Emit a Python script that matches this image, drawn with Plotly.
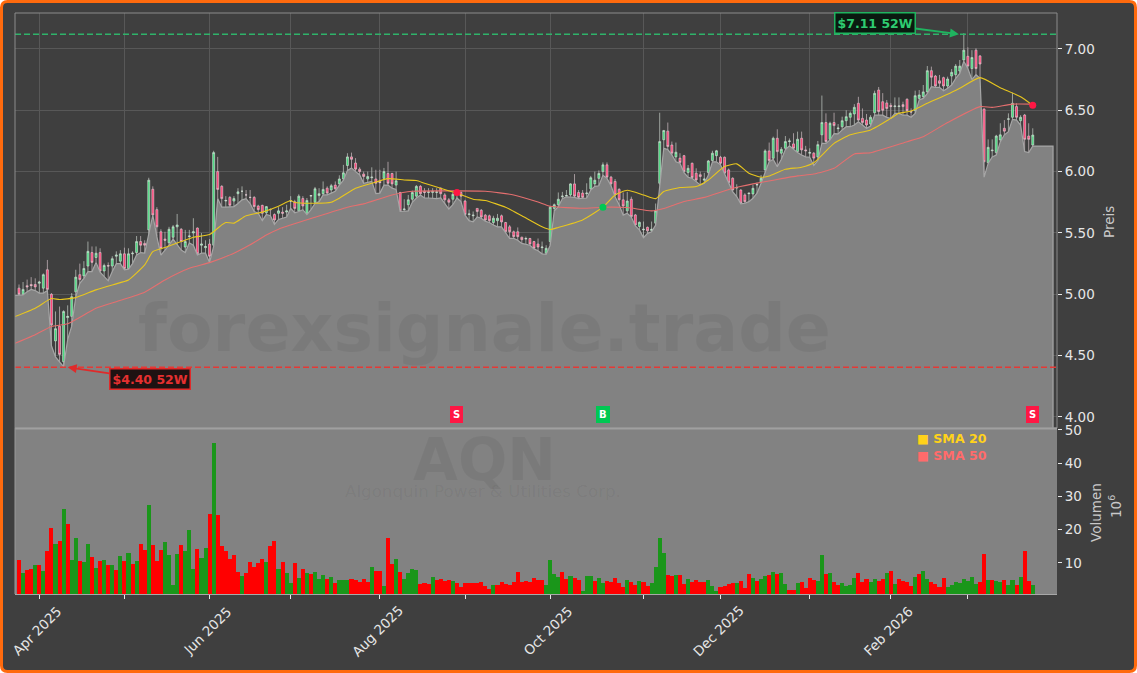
import plotly.graph_objects as go

W, H = 1137, 673
opens = [5.05,5.00,5.07,5.08,5.08,5.09,5.05,5.20,5.00,4.62,
 4.74,4.45,4.81,4.82,5.02,5.16,5.15,5.23,5.34,5.30,
 5.34,5.19,5.235,5.23,5.31,5.27,5.33,5.21,5.33,5.34,
 5.43,5.415,5.525,5.856,5.69,5.51,5.45,5.42,5.465,5.55,
 5.53,5.385,5.47,5.50,5.54,5.40,5.38,5.41,5.40,6.00,
 5.88,5.76,5.79,5.76,5.82,5.84,5.81,5.79,5.79,5.72,
 5.725,5.665,5.69,5.65,5.66,5.67,5.67,5.76,5.755,5.68,
 5.78,5.66,5.80,5.75,5.805,5.82,5.865,5.85,5.89,5.90,
 5.94,6.05,6.12,6.07,6.02,5.98,5.94,5.95,5.94,5.92,
 5.945,5.985,5.985,5.89,5.83,5.69,5.73,5.775,5.80,5.88,
 5.84,5.83,5.83,5.83,5.865,5.81,5.77,5.775,5.82,5.83,
 5.76,5.65,5.64,5.70,5.685,5.645,5.64,5.585,5.60,5.64,
 5.585,5.55,5.51,5.51,5.465,5.45,5.455,5.43,5.41,5.38,
 5.335,5.43,5.70,5.73,5.795,5.80,5.81,5.90,5.83,5.825,
 5.82,5.86,5.90,5.945,6.00,6.055,5.955,5.92,5.855,5.77,
 5.68,5.775,5.647,5.552,5.525,5.546,5.52,5.58,5.905,6.26,
 6.33,6.217,6.12,6.11,6.13,5.992,6.068,5.987,5.975,5.93,
 5.992,6.09,6.13,6.117,6.117,6.014,5.946,5.866,5.85,5.81,
 5.82,5.818,5.89,5.91,6.014,6.169,6.109,6.272,6.15,6.19,
 6.245,6.226,6.163,6.272,6.177,6.15,6.15,6.12,6.30,6.40,
 6.263,6.40,6.35,6.366,6.415,6.443,6.47,6.557,6.434,6.42,
 6.388,6.48,6.665,6.57,6.56,6.54,6.53,6.53,6.546,6.59,
 6.49,6.497,6.597,6.611,6.65,6.823,6.779,6.74,6.766,6.698,
 6.779,6.79,6.82,6.91,6.94,6.84,6.99,6.943,6.51,6.073,
 6.17,6.155,6.258,6.353,6.426,6.443,6.53,6.415,6.461,6.29,6.217]
highs = [5.08,5.10,5.12,5.14,5.13,5.11,5.17,5.28,5.01,4.86,
 4.90,4.87,4.91,5.01,5.20,5.25,5.27,5.43,5.39,5.39,
 5.375,5.25,5.26,5.31,5.35,5.36,5.38,5.375,5.35,5.475,
 5.475,5.44,5.95,5.88,5.71,5.53,5.51,5.55,5.565,5.655,
 5.54,5.525,5.525,5.62,5.545,5.50,5.44,5.45,6.17,6.12,
 5.89,5.80,5.80,5.80,5.865,5.88,5.85,5.85,5.80,5.73,
 5.73,5.72,5.70,5.66,5.71,5.71,5.73,5.80,5.77,5.815,
 5.80,5.785,5.81,5.875,5.865,5.92,5.88,5.90,5.92,5.97,
 6.055,6.15,6.155,6.11,6.035,6.00,6.00,6.035,6.015,6.015,
 6.03,6.08,5.99,6.00,5.835,5.775,5.81,5.845,5.89,5.89,
 5.865,5.865,5.865,5.865,5.87,5.825,5.785,5.83,5.85,5.84,
 5.77,5.69,5.675,5.70,5.695,5.655,5.65,5.64,5.655,5.65,
 5.59,5.565,5.52,5.545,5.47,5.47,5.46,5.435,5.455,5.43,
 5.40,5.72,5.74,5.83,5.835,5.85,5.905,5.98,5.85,5.85,
 5.905,5.965,6.00,6.01,6.075,6.075,5.965,5.94,5.865,5.83,
 5.835,5.796,5.655,5.593,5.593,5.552,5.593,5.74,6.48,6.34,
 6.40,6.245,6.237,6.15,6.136,6.054,6.074,6.027,6.00,5.99,
 6.095,6.17,6.177,6.128,6.123,6.025,5.954,5.897,5.856,5.824,
 5.824,5.892,5.91,5.973,6.182,6.237,6.285,6.345,6.20,6.29,
 6.27,6.313,6.326,6.326,6.21,6.19,6.16,6.25,6.62,6.475,
 6.407,6.48,6.388,6.448,6.50,6.49,6.55,6.61,6.515,6.47,
 6.46,6.66,6.69,6.64,6.584,6.56,6.605,6.605,6.57,6.597,
 6.516,6.66,6.665,6.706,6.861,6.856,6.788,6.788,6.774,6.774,
 6.836,6.877,6.91,7.128,7.013,6.99,7.005,6.95,6.516,6.263,
 6.263,6.30,6.394,6.42,6.475,6.643,6.557,6.46,6.47,6.394,6.353]
lows = [4.99,4.995,5.02,5.04,5.03,5.01,5.01,5.03,4.58,4.49,
 4.45,4.41,4.63,4.74,4.98,5.09,5.13,5.185,5.185,5.26,
 5.18,5.145,5.11,5.185,5.25,5.25,5.20,5.205,5.25,5.32,
 5.34,5.335,5.48,5.645,5.47,5.32,5.36,5.40,5.45,5.40,
 5.36,5.34,5.42,5.40,5.32,5.335,5.335,5.26,5.39,5.78,
 5.71,5.71,5.71,5.715,5.74,5.77,5.78,5.74,5.675,5.66,
 5.60,5.65,5.64,5.57,5.61,5.62,5.63,5.70,5.665,5.675,
 5.69,5.65,5.69,5.74,5.755,5.81,5.81,5.825,5.84,5.89,
 5.93,6.01,6.03,6.00,5.975,5.905,5.91,5.92,5.82,5.825,
 5.89,5.89,5.865,5.855,5.675,5.675,5.68,5.75,5.785,5.81,
 5.785,5.785,5.78,5.78,5.785,5.735,5.695,5.73,5.785,5.755,
 5.645,5.60,5.59,5.63,5.62,5.595,5.585,5.565,5.55,5.55,
 5.50,5.455,5.455,5.44,5.415,5.41,5.40,5.37,5.355,5.33,
 5.325,5.40,5.68,5.715,5.78,5.795,5.795,5.79,5.78,5.785,
 5.785,5.85,5.88,5.885,5.97,5.945,5.885,5.795,5.73,5.645,
 5.66,5.63,5.557,5.525,5.462,5.497,5.51,5.565,5.89,6.19,
 6.18,6.136,6.08,6.068,5.992,5.954,5.946,5.919,5.892,5.905,
 5.973,6.08,6.08,6.055,5.98,5.90,5.837,5.797,5.737,5.742,
 5.755,5.783,5.824,5.905,5.992,6.082,6.10,6.04,6.10,6.18,
 6.21,6.18,6.155,6.136,6.12,6.117,6.05,6.09,6.23,6.23,
 6.258,6.31,6.307,6.34,6.366,6.366,6.38,6.407,6.38,6.353,
 6.372,6.46,6.46,6.46,6.442,6.434,6.475,6.475,6.46,6.46,
 6.443,6.475,6.584,6.597,6.638,6.693,6.687,6.687,6.66,6.679,
 6.706,6.76,6.80,6.90,6.84,6.75,6.79,6.76,5.955,6.067,
 6.12,6.135,6.244,6.30,6.326,6.426,6.42,6.38,6.163,6.155,6.208]
closes = [5.00,5.04,5.06,5.07,5.06,5.10,5.16,5.04,4.75,4.72,
 4.51,4.86,4.82,4.98,5.14,5.12,5.21,5.35,5.26,5.335,
 5.19,5.235,5.23,5.29,5.32,5.33,5.21,5.33,5.335,5.43,
 5.40,5.40,5.93,5.647,5.55,5.375,5.44,5.53,5.55,5.565,
 5.43,5.43,5.475,5.51,5.33,5.41,5.39,5.31,6.155,5.855,
 5.78,5.765,5.726,5.78,5.835,5.84,5.81,5.79,5.715,5.69,
 5.66,5.715,5.69,5.605,5.68,5.66,5.68,5.76,5.70,5.80,
 5.72,5.765,5.805,5.86,5.82,5.855,5.825,5.885,5.86,5.94,
 5.99,6.12,6.10,6.02,6.00,5.96,5.96,5.955,5.905,5.91,
 6.00,5.905,5.90,5.925,5.68,5.695,5.77,5.83,5.88,5.82,
 5.83,5.835,5.84,5.835,5.82,5.77,5.75,5.815,5.83,5.80,
 5.65,5.655,5.645,5.675,5.63,5.605,5.60,5.62,5.62,5.59,
 5.51,5.51,5.47,5.47,5.445,5.455,5.41,5.375,5.385,5.385,
 5.375,5.71,5.73,5.775,5.80,5.805,5.90,5.80,5.79,5.79,
 5.825,5.95,5.93,5.985,6.055,5.955,5.90,5.81,5.77,5.72,
 5.76,5.633,5.565,5.587,5.53,5.517,5.53,5.68,6.245,6.335,
 6.205,6.15,6.158,6.074,6.00,6.027,5.951,5.932,5.96,5.94,
 6.087,6.15,6.17,6.068,5.987,5.91,5.85,5.87,5.742,5.755,
 5.825,5.864,5.895,5.946,6.169,6.09,6.272,6.163,6.182,6.245,
 6.25,6.19,6.264,6.177,6.17,6.155,6.11,6.22,6.40,6.245,
 6.394,6.375,6.355,6.415,6.448,6.475,6.524,6.42,6.40,6.38,
 6.443,6.638,6.49,6.50,6.515,6.53,6.535,6.535,6.53,6.497,
 6.485,6.619,6.625,6.65,6.823,6.769,6.698,6.72,6.698,6.755,
 6.809,6.86,6.86,6.99,6.86,6.93,6.84,6.877,6.08,6.198,
 6.175,6.29,6.30,6.33,6.43,6.557,6.443,6.443,6.263,6.263,6.298]
volumes = [10.9,7.1,7.9,8.2,9.4,9.4,7.6,13.6,20.5,15.7,
 16.6,26.2,21.7,10.9,17.5,10.6,10.3,15.7,11.8,8.5,
 10.6,10.9,9.4,9.4,7.9,12.1,10.6,13.0,9.7,10.6,
 15.7,13.9,27.4,15.5,10.6,13.9,16.3,12.4,3.4,12.7,
 15.5,13.6,19.9,8.2,14.2,11.5,14.5,24.7,46.1,24.4,
 15.1,13.6,11.2,12.4,7.3,6.1,7.0,10.3,8.8,10.0,
 11.2,10.3,15.1,16.6,8.2,10.3,7.0,3.9,10.0,5.5,
 8.2,7.0,6.7,7.3,5.2,6.4,5.2,5.8,3.9,4.9,
 4.9,4.9,5.2,4.9,4.3,5.2,4.3,8.8,7.6,7.6,
 3.0,17.5,9.7,11.2,7.3,5.2,7.0,8.2,7.9,3.7,
 4.0,3.7,5.8,4.9,5.2,4.6,4.9,4.6,4.0,2.8,
 4.0,4.0,4.0,4.0,4.3,3.0,2.2,3.4,3.4,4.3,
 3.7,3.4,4.3,7.3,4.3,4.6,4.3,5.5,4.9,4.9,
 3.4,10.9,6.7,5.8,7.3,5.2,6.1,5.5,4.9,1.6,
 6.1,6.1,4.6,5.5,4.0,4.6,4.3,5.5,4.0,2.8,
 4.9,4.3,3.4,4.6,4.3,3.0,4.0,8.8,17.5,13.0,
 6.4,6.1,6.4,6.4,3.7,5.2,4.3,4.9,4.3,4.3,
 4.9,3.0,1.6,2.8,3.0,3.7,4.0,4.0,4.6,2.5,
 6.7,5.5,4.6,5.2,6.1,6.4,7.3,6.7,7.0,3.7,
 1.9,1.9,4.0,4.3,2.5,5.5,4.9,4.6,12.4,6.7,
 7.0,4.3,3.4,4.0,3.0,3.4,5.5,7.0,4.3,5.2,
 4.3,5.2,4.6,5.2,7.0,7.6,3.7,5.2,4.6,4.3,
 3.0,5.8,6.7,7.6,5.2,4.3,3.7,2.8,5.5,2.8,
 3.4,4.3,4.0,5.2,4.6,5.8,3.7,4.3,12.7,4.9,
 4.9,4.6,4.3,4.9,3.4,4.9,3.4,5.8,13.6,4.6,3.4]
vol_up = "RGRRGRGRRG" "RGRGGRGGRG" "RGRGRGRGRG" "RRGRRRGGGG" "RGGGRGGRGR" \
         "RRRRRGRRRR" "RGRRGRGGRG" "RGRGGGRGRG" "GGRRRRRGRR" "GRRGRGGGGR" \
         "RRGRRRRGRR" "RRRRRRRGRR" "RRRRRRRRRR" "GGGGRRGRRG" "GGRGGRRRRR" \
         "GRRGRRGGGG" "RRGRRGRRRR" "GGGRRRRGRR" "RGRGGRGRGG" "RRGRRRRGGR" \
         "GRRGGGGRRR" "GGRRGRGRRR" "RGRGGRRRRG" "GGGGGGGRRG" "RGGRGGRGRRG"
sma20_x = [-1,4,8,10,14,19,25,27,31,33,36,40,43,47,50,51,53,56,60,64,67,68,73,77,79,83,87,91,95,98,100,104,108,112,115,120,124,129,131,133,139,144,147,150,154,157,159,163,167,170,174,177,180,183,185,189,193,196,201,205,210,215,217,220,224,229,232,237,242,247,250]
sma20_y = [4.818,4.886,4.965,4.957,4.973,5.036,5.095,5.117,5.24,5.348,5.381,5.43,5.465,5.487,5.566,5.585,5.58,5.64,5.67,5.718,5.764,5.748,5.742,5.75,5.783,5.864,5.905,5.943,5.932,5.927,5.905,5.864,5.823,5.775,5.764,5.71,5.64,5.55,5.528,5.545,5.606,5.71,5.81,5.848,5.81,5.78,5.837,5.87,5.878,5.932,6.041,6.063,5.987,5.954,5.965,6.019,6.036,6.073,6.23,6.30,6.34,6.434,6.475,6.494,6.557,6.63,6.679,6.766,6.684,6.61,6.54]
sma50_x = [-1,4,8,12,19,24,31,36,42,47,53,57,61,64,73,81,85,92,97,108,115,122,128,131,139,144,150,156,159,164,169,176,181,186,192,196,201,206,210,219,223,229,237,240,245,250]
sma50_y = [4.60,4.67,4.737,4.76,4.886,4.94,5.017,5.117,5.212,5.258,5.335,5.403,5.484,5.531,5.628,5.71,5.737,5.81,5.84,5.843,5.84,5.81,5.752,5.717,5.701,5.71,5.707,5.68,5.70,5.756,5.79,5.864,5.90,5.93,5.965,5.98,6.027,6.144,6.154,6.244,6.285,6.40,6.53,6.524,6.55,6.55]
tick_vals = [5,26,47,67,89,110,131,154,173,195,215,234]
tick_text = ["Apr 2025","","Jun 2025","","Aug 2025","","Oct 2025","","Dec 2025","","Feb 2026",""]
high52 = 7.12
low52 = 4.405
signal_x = [108,144,250]
signal_y = [5.83,5.71,6.54]
signal_text = ["S","B","S"]

assert len(opens)==len(highs)==len(lows)==len(closes)==len(volumes)==len(vol_up)==251, \
    (len(opens),len(highs),len(lows),len(closes),len(volumes),len(vol_up))

idx = list(range(len(closes)))
GREEN, RED = "#00c853", "#ff1744"
DARK, GREY = "#3f3f3f", "#828282"
XR = [-0.986, 255.98]

def px(x): return x / W
def py(y): return 1 - y / H

fig = go.Figure()
fig.add_trace(go.Scatter(x=[-1] + idx + [idx[-1] + k for k in range(1, 6)] + [255],
                         y=[lows[0]] + lows + [lows[-1]] * 5 + [3.0],
                         mode="lines", line=dict(color="#a6a6a6", width=1.2),
                         fill="tozeroy", fillcolor=GREY, showlegend=False, hoverinfo="skip"))
for v, c in ((high52, "#2fb36a"), (low52, "#e53935")):
    fig.add_trace(go.Scatter(x=XR, y=[v, v], mode="lines", showlegend=False,
                             line=dict(color=c, width=1.5, dash="6px,3px")))
fig.add_trace(go.Candlestick(x=idx, open=opens, high=highs, low=lows, close=closes,
                             whiskerwidth=0, showlegend=False,
                             increasing=dict(line=dict(color="#dbe6de", width=0.6), fillcolor="#44d97c"),
                             decreasing=dict(line=dict(color="#e8d3da", width=0.6), fillcolor="#ff3f75")))
fig.add_trace(go.Scatter(x=sma50_x, y=sma50_y, mode="lines", name="SMA 50", showlegend=False,
                         line=dict(color="#e56f6f", width=1.1, shape="spline", smoothing=0.5)))
fig.add_trace(go.Scatter(x=sma20_x, y=sma20_y, mode="lines", name="SMA 20", showlegend=False,
                         line=dict(color="#e8c61e", width=1.1, shape="spline", smoothing=0.5)))
fig.add_trace(go.Scatter(x=signal_x, y=signal_y, mode="markers", showlegend=False,
                         marker=dict(size=7, color=[RED if t == "S" else GREEN for t in signal_text])))
fig.add_trace(go.Bar(x=idx, y=volumes, xaxis="x2", yaxis="y2", width=1.0, showlegend=False,
                     marker=dict(color=["#1a961a" if u == "G" else "#ff0000" for u in vol_up], line_width=0)))

tickf = dict(family="DejaVu Sans", size=13.5, color="#e6e6e6")
fig.update_layout(
    width=W, height=H, margin=dict(l=0, r=0, t=0, b=0, autoexpand=False),
    paper_bgcolor="#ffffff", plot_bgcolor="rgba(0,0,0,0)",
    bargap=0, barmode="overlay",
    font=dict(family="DejaVu Sans", color="#e6e6e6"),
    xaxis=dict(domain=[px(15), px(1057)], range=XR, anchor="y", rangeslider=dict(visible=False),
               tickmode="array", tickvals=tick_vals, showticklabels=False, ticks="",
               showgrid=True, gridcolor="#585858", gridwidth=1, zeroline=False,
               showline=False),
    yaxis=dict(domain=[py(428), py(13)], range=[3.91, 7.293], anchor="x", side="right",
               tickmode="array", tickvals=[4, 4.5, 5, 5.5, 6, 6.5, 7],
               ticktext=["4.00", "4.50", "5.00", "5.50", "6.00", "6.50", "7.00"],
               ticks="outside", ticklen=4, tickcolor="#e6e6e6", tickfont=tickf,
               showgrid=True, gridcolor="#585858", gridwidth=1, zeroline=False,
               showline=False),
    xaxis2=dict(domain=[px(15), px(1057)], range=XR, anchor="y2",
                tickmode="array", tickvals=tick_vals, showticklabels=False,
                ticks="outside", ticklen=4, tickcolor="#e6e6e6",
                showgrid=False, zeroline=False, showline=False),
    yaxis2=dict(domain=[py(594), py(428)], range=[0.67, 50.6], anchor="x2", side="right",
                tickmode="array", tickvals=[10, 20, 30, 40, 50],
                ticks="outside", ticklen=4, tickcolor="#e6e6e6", tickfont=tickf,
                showgrid=False, zeroline=False, showline=False),
)

r = 6; i = 1.5
x0, y0, x1, y1 = i, i, W - i, H - i
def P(x, y): return f"{px(x):.5f},{py(y):.5f}"
frame = (f"M {P(x0+r,y0)} L {P(x1-r,y0)} Q {P(x1,y0)} {P(x1,y0+r)} L {P(x1,y1-r)} Q {P(x1,y1)} {P(x1-r,y1)} "
         f"L {P(x0+r,y1)} Q {P(x0,y1)} {P(x0,y1-r)} L {P(x0,y0+r)} Q {P(x0,y0)} {P(x0+r,y0)} Z")
shapes = [
    dict(type="path", xref="paper", yref="paper", path=frame, fillcolor=DARK, line=dict(color="#ff6a0d", width=3), layer="below"),
    dict(type="rect", xref="paper", yref="paper", x0=px(15), x1=px(1057), y0=py(594), y1=py(428), fillcolor=GREY, line_width=0, layer="below"),
    dict(type="rect", xref="paper", yref="paper", x0=px(15), x1=px(1057), y0=py(428), y1=py(13), fillcolor="rgba(0,0,0,0)", line=dict(color="#8c8c8c", width=1), layer="above"),
    dict(type="line", xref="paper", yref="paper", x0=px(15), x1=px(1057), y0=py(428.5), y1=py(428.5), line=dict(color="#a0a0a0", width=2), layer="above"),
    dict(type="line", xref="paper", yref="paper", x0=px(15), x1=px(15), y0=py(594), y1=py(428), line=dict(color="#9a9a9a", width=1), layer="above"),
    dict(type="line", xref="paper", yref="paper", x0=px(15), x1=px(1057), y0=py(594.5), y1=py(594.5), line=dict(color="#a8a8a8", width=1), layer="above"),
]
fig.update_layout(shapes=shapes)

def txt(x, y, text, size, color, bold=False, xanchor="center", textangle=0):
    fig.add_annotation(xref="paper", yref="paper", x=px(x), y=py(y), text=f"<b>{text}</b>" if bold else text,
                       showarrow=False, xanchor=xanchor, yanchor="middle", textangle=textangle,
                       font=dict(family="DejaVu Sans", size=size, color=color))

txt(484, 328, "forexsignale.trade", 66.5, "rgba(0,0,0,0.055)", bold=True)
txt(484, 460, "AQN", 58, "rgba(0,0,0,0.055)", bold=True)
txt(483, 491, "Algonquin Power &amp; Utilities Corp.", 16.7, "rgba(0,0,0,0.05)")
txt(915, 438, "■ SMA 20", 12.6, "#ffd21a", bold=True, xanchor="left")
txt(915, 455, "■ SMA 50", 12.6, "#ff6b6b", bold=True, xanchor="left")
txt(1109, 222, "Preis", 13.5, "#c9c9c9", textangle=-90)
txt(1096, 513, "Volumen", 13.5, "#c9c9c9", textangle=-90)
txt(1115, 507, "10<sup>6</sup>", 13.5, "#c9c9c9", textangle=-90)

# date labels centred on their ticks, as in the reference
for tv, tt in zip(tick_vals, tick_text):
    if tt:
        fig.add_annotation(x=tv, xref="x2", yref="paper", y=py(631), text=tt, showarrow=False,
                           textangle=-45, xanchor="center", yanchor="middle", xshift=-2.5,
                           font=dict(family="DejaVu Sans", size=13.5, color="#e6e6e6"))

fig.add_annotation(x=231.8, y=high52, xref="x", yref="y", text="<b>$7.11 52W</b>", ax=-84, ay=-11,
                   arrowhead=2, arrowsize=1, arrowwidth=1.8, arrowcolor="#1fb45f",
                   bgcolor="#0a1a10", bordercolor="#1fb45f", borderwidth=1.5, borderpad=2,
                   font=dict(family="DejaVu Sans", size=12.5, color="#2ecc71"))
fig.add_annotation(x=12, y=low52, xref="x", yref="y", text="<b>$4.40 52W</b>", ax=82, ay=12,
                   arrowhead=2, arrowsize=1, arrowwidth=1.8, arrowcolor="#e02a2a",
                   bgcolor="#1e1212", bordercolor="#e02a2a", borderwidth=1.5, borderpad=2,
                   font=dict(family="DejaVu Sans", size=12.5, color="#e53030"))
for sx, st in zip(signal_x, signal_text):
    c = RED if st == "S" else GREEN
    fig.add_annotation(x=sx, y=4.02, xref="x", yref="y", text=f"<b>{st}</b>", showarrow=False,
                       bgcolor=c, bordercolor=c, borderwidth=1, borderpad=2,
                       font=dict(family="DejaVu Sans", size=10, color="#ffffff"))

fig.write_html("out.html", config={"displayModeBar": False},
               post_script="document.body.style.margin='0';document.body.style.overflow='hidden';")
